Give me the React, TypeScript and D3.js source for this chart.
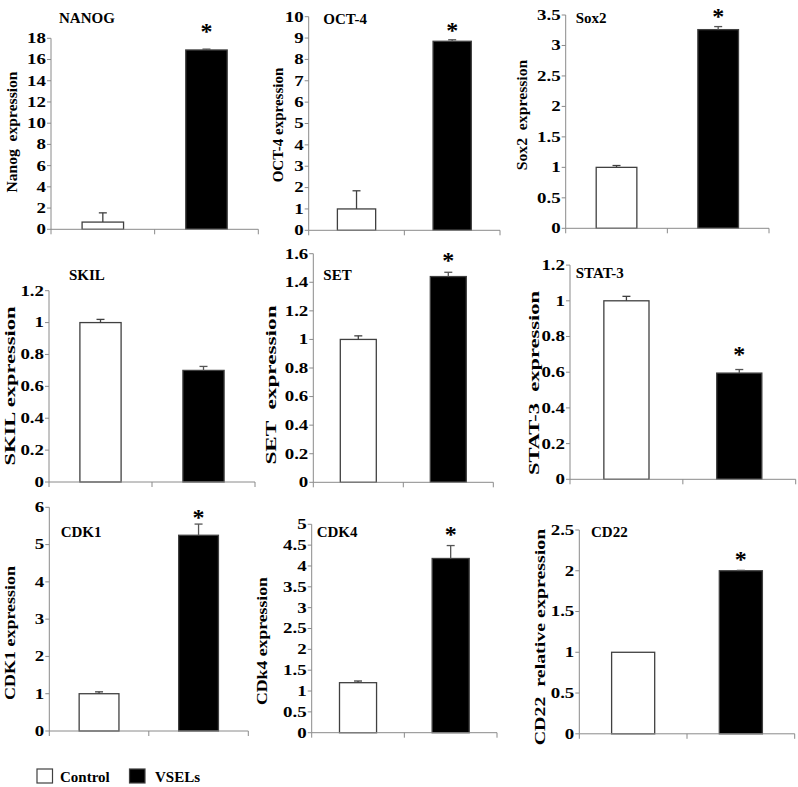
import React from "react";
import * as d3 from "d3";

// ---- data ----
const titles = ["NANOG", "OCT-4", "Sox2", "SKIL", "SET", "STAT-3", "CDK1", "CDK4", "CD22"];
const yLabels = [
  "Nanog  expression",
  "OCT-4 expression",
  "Sox2  expression",
  "SKIL expression",
  "SET  expression",
  "STAT-3  expression",
  "CDK1 expression",
  "CDk4 expression",
  "CD22  relative expression",
];
const categories = ["Control", "VSELs"];
const controlValues = [0.68, 1.0, 1.0, 1.0, 1.0, 1.0, 1.0, 1.2, 1.0];
const controlErrors = [0.87, 0.85, 0.03, 0.02, 0.025, 0.025, 0.05, 0.04, 0];
const vselValues = [16.9, 8.85, 3.26, 0.7, 1.44, 0.595, 5.25, 4.18, 2.0];
const vselErrors = [0.08, 0.07, 0.05, 0.025, 0.03, 0.02, 0.3, 0.31, 0.005];
const significant = [true, true, true, false, true, true, true, true, true];
const yMaxes = [18, 10, 3.5, 1.2, 1.6, 1.2, 6, 5, 2.5];
const ySteps = [2, 1, 0.5, 0.2, 0.2, 0.2, 1, 0.5, 0.5];

// ---- layout (pixels) ----
const layout = [
  { ax: 51, xe: 258.3, y0: 229.3, yt: 38.3, tx: 59, ty: 22.7, lx: 12, ly: 132, ls: 1.04, sg: 20 },
  { ax: 308.7, xe: 500, y0: 230.3, yt: 16.7, tx: 323.3, ty: 24, lx: 278, ly: 125, ls: 1.0, sg: 12 },
  { ax: 565.7, xe: 769, y0: 228.3, yt: 15, tx: 575.7, ty: 22.7, lx: 522, ly: 115, ls: 1.05, sg: 13 },
  { ax: 49, xe: 255, y0: 482, yt: 290.7, tx: 69, ty: 280, lx: 10, ly: 386, ls: 1.5, sg: 14 },
  { ax: 313.3, xe: 493.3, y0: 482.3, yt: 253.7, tx: 323.3, ty: 280, lx: 271, ly: 385, ls: 1.55, sg: 14 },
  { ax: 570, xe: 795.7, y0: 479.3, yt: 265.1, tx: 575.7, ty: 278.3, lx: 534, ly: 383, ls: 1.5, sg: 18 },
  { ax: 49.3, xe: 248.3, y0: 731, yt: 507.3, tx: 60.7, ty: 536.7, lx: 10, ly: 633, ls: 1.2, sg: 9 },
  { ax: 311.7, xe: 497, y0: 732.7, yt: 524.3, tx: 316.7, ty: 536.7, lx: 262, ly: 641, ls: 1.18, sg: 14 },
  { ax: 579.3, xe: 794.7, y0: 733.8, yt: 530, tx: 591, ty: 536.7, lx: 540, ly: 637, ls: 1.33, sg: 13 },
];

const FONT = "'Liberation Serif', 'Times New Roman', serif";
const AXIS = "#8a8a8a";
const BAR_STROKE = "#404040";

function Panel({ i }: { i: number }) {
  const L = layout[i];
  const x = d3.scaleBand<string>().domain(categories).range([L.ax, L.xe]).paddingInner(0.6).paddingOuter(0.3);
  const y = d3.scaleLinear().domain([0, yMaxes[i]]).range([L.y0, L.yt]);
  const n = Math.round(yMaxes[i] / ySteps[i]);
  const ticks = d3.range(0, n + 1).map((k) => +(k * ySteps[i]).toFixed(2));
  const vals = [controlValues[i], vselValues[i]];
  const errs = [controlErrors[i], vselErrors[i]];
  const xTicks = [L.ax, (L.ax + L.xe) / 2, L.xe];
  const vx = (x(categories[1]) as number) + x.bandwidth() / 2;
  const starTop = y(vselValues[i] + vselErrors[i]) - L.sg;
  return (
    <g>
      {categories.map((c, k) => {
        const bx = x(c) as number;
        const by = y(vals[k]);
        return (
          <rect
            key={c}
            x={bx}
            y={by}
            width={x.bandwidth()}
            height={L.y0 - by}
            fill={k === 0 ? "#ffffff" : "#000000"}
            stroke={BAR_STROKE}
            strokeWidth={1.3}
          />
        );
      })}
      {categories.map((c, k) => {
        if (errs[k] <= 0) return null;
        const cx = (x(c) as number) + x.bandwidth() / 2;
        const yTop = y(vals[k] + errs[k]);
        const yb = y(vals[k]);
        return (
          <g key={"e" + c} stroke={k === 0 ? BAR_STROKE : "#555"} strokeWidth={1.3}>
            <line x1={cx} x2={cx} y1={yb} y2={yTop} />
            <line x1={cx - 4} x2={cx + 4} y1={yTop} y2={yTop} />
          </g>
        );
      })}
      <line x1={L.ax} x2={L.ax} y1={L.yt} y2={L.y0} stroke={AXIS} strokeWidth={1} />
      {ticks.map((t) => (
        <g key={t}>
          <line x1={L.ax - 4} x2={L.ax} y1={y(t)} y2={y(t)} stroke={AXIS} strokeWidth={1} />
          <text
            transform={`translate(${L.ax - 5},${y(t)}) scale(1.35,1)`}
            dy="0.35em"
            textAnchor="end"
            fontFamily={FONT}
            fontWeight="bold"
            fontSize={14}
            fill="#000"
          >
            {String(t)}
          </text>
        </g>
      ))}
      <line x1={L.ax} x2={L.xe} y1={L.y0} y2={L.y0} stroke={AXIS} strokeWidth={1} />
      {xTicks.map((tx, k) => (
        <line key={k} x1={tx} x2={tx} y1={L.y0} y2={L.y0 + 5} stroke={AXIS} strokeWidth={1} />
      ))}
      <text x={L.tx} y={L.ty} fontFamily={FONT} fontWeight="bold" fontSize={15} fill="#000">
        {titles[i]}
      </text>
      <text
        transform={`translate(${L.lx},${L.ly}) rotate(-90) scale(${L.ls},1)`}
        textAnchor="middle"
        dy="0.35em"
        fontFamily={FONT}
        fontWeight="bold"
        fontSize={15}
        fill="#000"
        style={{ whiteSpace: "pre" }}
      >
        {yLabels[i]}
      </text>
      {significant[i] && (
        <text
          x={vx}
          y={starTop + 10}
          textAnchor="middle"
          fontFamily={FONT}
          fontWeight="bold"
          fontSize={24}
          fill="#000"
        >
          *
        </text>
      )}
    </g>
  );
}

export default function App() {
  return (
    <svg
      width={798}
      height={787}
      style={{ position: "absolute", left: 0, top: 0, background: "#fff" }}
    >
      <rect x={0} y={0} width={798} height={787} fill="#fff" />
      {titles.map((_, i) => (
        <Panel key={i} i={i} />
      ))}
      <rect x={37} y={769} width={15.5} height={14} fill="#fff" stroke={BAR_STROKE} strokeWidth={1.2} />
      <text x={60} y={782} fontFamily={FONT} fontWeight="bold" fontSize={15} fill="#000">
        {categories[0]}
      </text>
      <rect x={129.5} y={769} width={15.5} height={14} fill="#000" stroke={BAR_STROKE} strokeWidth={1.2} />
      <text x={155} y={782} fontFamily={FONT} fontWeight="bold" fontSize={15} fill="#000">
        {categories[1]}
      </text>
    </svg>
  );
}
